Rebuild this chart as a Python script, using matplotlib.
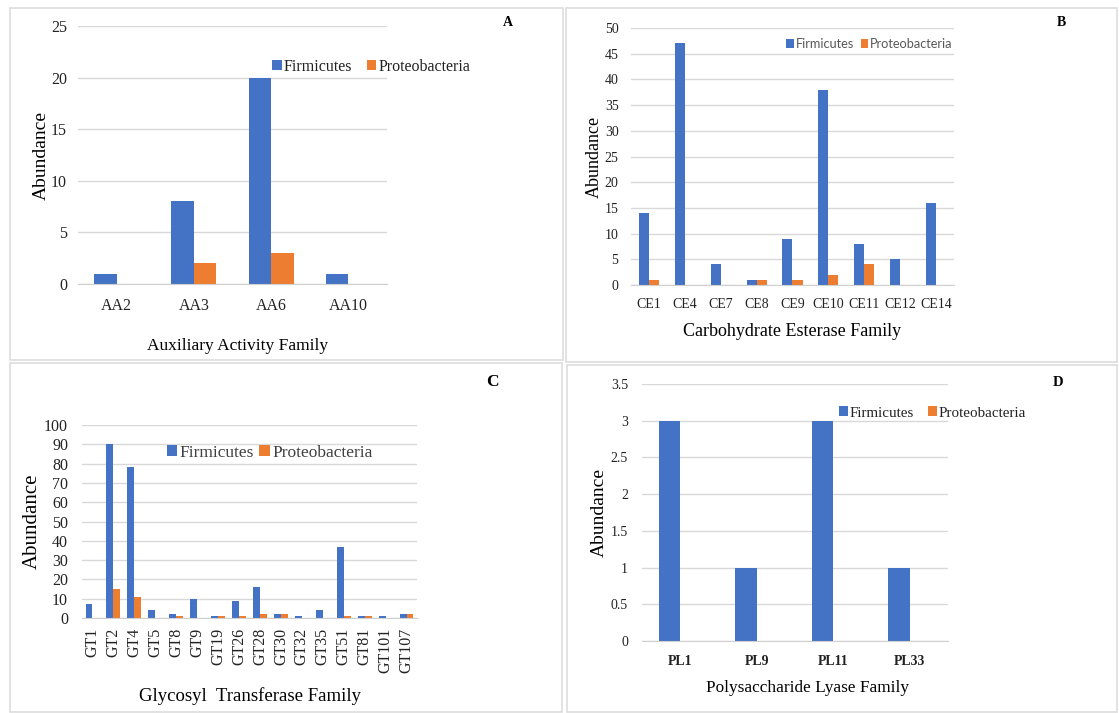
import matplotlib
matplotlib.use('Agg')
import matplotlib.pyplot as plt
from matplotlib.patches import Rectangle
import numpy as np

aa_families = ['AA2', 'AA3', 'AA6', 'AA10']
aa_firmicutes = [1, 8, 20, 1]
aa_proteo = [0, 2, 3, 0]

ce_families = ['CE1', 'CE4', 'CE7', 'CE8', 'CE9', 'CE10', 'CE11', 'CE12', 'CE14']
ce_firmicutes = [14, 47, 4, 1, 9, 38, 8, 5, 16]
ce_proteo = [1, 0, 0, 1, 1, 2, 4, 0, 0]

gt_families = ['GT1', 'GT2', 'GT4', 'GT5', 'GT8', 'GT9', 'GT19', 'GT26', 'GT28',
               'GT30', 'GT32', 'GT35', 'GT51', 'GT81', 'GT101', 'GT107']
gt_firmicutes = [7, 90, 78, 4, 2, 10, 1, 9, 16, 2, 1, 4, 37, 1, 1, 2]
gt_proteo = [0, 15, 11, 0, 1, 0, 1, 1, 2, 2, 0, 0, 1, 1, 0, 2]

pl_families = ['PL1', 'PL9', 'PL11', 'PL33']
pl_firmicutes = [3, 1, 3, 1]
pl_proteo = [0, 0, 0, 0]

BLUE = '#4472C4'
ORANGE = '#ED7D31'
SERIF = 'Liberation Serif'

W, H = 1119, 713
fig = plt.figure(figsize=(W / 100, H / 100), dpi=100)
plt.rcParams['font.family'] = SERIF


def px_axes(x0, y0, x1, y1):
    return fig.add_axes([x0 / W, 1 - y1 / H, (x1 - x0) / W, (y1 - y0) / H])


# panel frames
for (x0, y0, x1, y1) in [(10, 8, 563, 360), (566, 8, 1117, 362),
                         (10, 363, 562, 712), (567, 365, 1117, 712)]:
    fig.add_artist(Rectangle((x0 / W, 1 - y1 / H), (x1 - x0) / W, (y1 - y0) / H,
                             transform=fig.transFigure, fill=False,
                             edgecolor='#dddddd', linewidth=1.2))


def panel(ax, cats, firm, prot, width, ymax, ystep, tick_fs, ypad, xpad,
          ylabel_fs, ylabelpad, xlabel, xlabel_fs, xlabelpad, rot=0, xbold=False,
          xlabel_x=0.5):
    x = np.arange(len(cats))
    b1 = ax.bar(x - width / 2, firm, width, color=BLUE, label='Firmicutes')
    b2 = ax.bar(x + width / 2, prot, width, color=ORANGE, label='Proteobacteria')
    ax.set_xlim(-0.5, len(cats) - 0.5)
    ax.set_ylim(0, ymax)
    ticks = np.arange(0, ymax + ystep / 2, ystep)
    ax.set_yticks(ticks)
    ax.set_yticklabels(['%g' % v for v in ticks])
    ax.set_xticks(x)
    ax.set_xticklabels(cats, rotation=rot,
                       fontweight='bold' if xbold else 'normal')
    ax.tick_params(axis='y', length=0, pad=ypad, labelsize=tick_fs, colors='#222222')
    ax.tick_params(axis='x', length=0, pad=xpad, labelsize=tick_fs, colors='#222222')
    ax.grid(axis='y', color='#d9d9d9', linewidth=1)
    ax.set_axisbelow(True)
    for s in ['top', 'right', 'left']:
        ax.spines[s].set_visible(False)
    ax.spines['bottom'].set_color('#d0d0d0')
    ax.set_ylabel('Abundance', fontsize=ylabel_fs, labelpad=ylabelpad)
    ax.set_xlabel(xlabel, fontsize=xlabel_fs, labelpad=xlabelpad)
    ax.xaxis.label.set_x(xlabel_x)
    return b1, b2


def add_legend(ax, handles, x, y, fs, colsp, family=SERIF, color='#222222'):
    leg = ax.legend(handles=handles, loc='center left',
                    bbox_to_anchor=(x / W, 1 - y / H), bbox_transform=fig.transFigure,
                    ncol=2, frameon=False, borderpad=0,
                    handlelength=0.6, handleheight=0.6, handletextpad=0.15,
                    columnspacing=colsp, prop={'family': family, 'size': fs})
    for t in leg.get_texts():
        t.set_color(color)


# Panel A
axA = px_axes(78, 26, 387, 284)
hA = panel(axA, aa_families, aa_firmicutes, aa_proteo, 0.29, 25, 5, 11.5, 8, 10,
           14, 1, 'Auxiliary Activity Family', 12.5, 17, xlabel_x=0.515)
add_legend(axA, hA, 264, 67, 11.5, 0.9)
fig.text(508 / W, 1 - 22 / H, 'A', fontsize=10, fontweight='bold', ha='center', va='center')

# Panel B
axB = px_axes(631, 28, 954, 285)
hB = panel(axB, ce_families, ce_firmicutes, ce_proteo, 0.28, 50, 5, 10, 9, 9,
           13, 1, 'Carbohydrate Esterase Family', 13, 9)
add_legend(axB, hB, 780, 44, 9.2, 0.5, family='Lato', color='#595959')
fig.text(1061 / W, 1 - 22 / H, 'B', fontsize=10, fontweight='bold', ha='center', va='center')

# Panel C
axC = px_axes(82, 425, 417, 618)
hC = panel(axC, gt_families, gt_firmicutes, gt_proteo, 0.33, 100, 10, 11.5, 10, 7,
           15, 2, 'Glycosyl  Transferase Family', 13.5, 10, rot=90)
add_legend(axC, hC, 158, 453, 12.5, 0.3, color='#404040')
fig.text(492 / W, 1 - 382 / H, 'C', fontsize=12.5, fontweight='bold', ha='center', va='center')

# Panel D
axD = px_axes(642, 384, 948, 641)
hD = panel(axD, pl_families, pl_firmicutes, pl_proteo, 0.28, 3.5, 0.5, 10, 10, 10,
           14, 2, 'Polysaccharide Lyase Family', 12.4, 9, xbold=True, xlabel_x=0.54)
add_legend(axD, hD, 831, 413, 10.8, 0.9)
fig.text(1058 / W, 1 - 382 / H, 'D', fontsize=10.5, fontweight='bold', ha='center', va='center')

fig.savefig('out.png', dpi=100)
